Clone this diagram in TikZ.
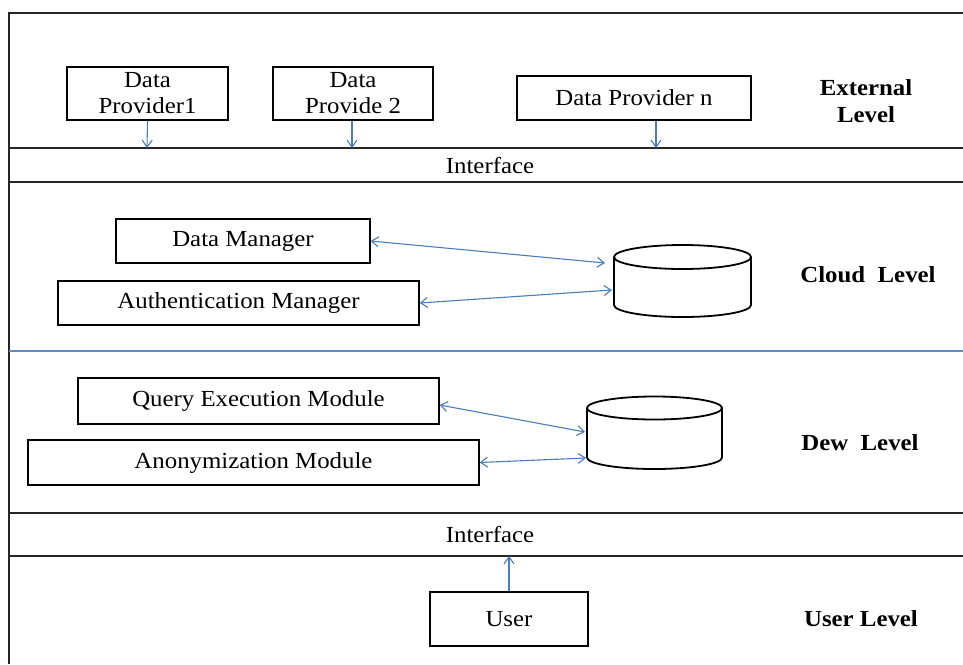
\documentclass[tikz,border=0pt]{standalone}
\usepackage{fontspec}
\setmainfont[FakeStretch=1.08]{Liberation Serif}
\usetikzlibrary{arrows.meta}
\definecolor{arrblue}{HTML}{4A7EBB}
\definecolor{lineblue}{HTML}{5B8CC6}
\tikzset{
  box/.style={draw, line width=1.3pt, inner sep=0pt, align=center, font=\fontsize{23}{26}\selectfont},
  lbl/.style={inner sep=0pt, align=center, font=\fontsize{23}{27}\selectfont\bfseries},
  txt/.style={inner sep=0pt, font=\fontsize{23}{26}\selectfont},
  sep/.style={line width=1.3pt, black!85},
  conn/.style={arrblue, line width=1.1pt, -{Straight Barb[length=7pt,width=10pt]}},
  biconn/.style={arrblue, line width=1.1pt, {Straight Barb[length=7pt,width=10pt]}-{Straight Barb[length=7pt,width=10pt]}},
  db/.style={line width=1.8pt}
}
\begin{document}
\begin{tikzpicture}[x=1pt,y=-1pt]
\useasboundingbox (0,0) rectangle (963,664);
% frame and separators
\draw[sep] (9,664) -- (9,13) -- (963,13);
\draw[sep] (9,148) -- (963,148);
\draw[sep] (9,182) -- (963,182);
\draw[lineblue, line width=1.5pt] (9,351) -- (963,351);
\draw[sep] (9,513) -- (963,513);
\draw[sep] (9,556) -- (963,556);

% interfaces
\node[txt] (if1) at (490,166) {Interface};
\node[txt] (if2) at (490,535) {Interface};
\coordinate (if1a) at (147,148);
\coordinate (if1b) at (352,148);
\coordinate (if1c) at (656,148);
\coordinate (if2a) at (509,556);

% external level
\node[box, minimum width=161pt, minimum height=53pt] (dp1) at (147.5,93.5) {Data\\Provider1};
\node[box, minimum width=160pt, minimum height=53pt] (dp2) at (353,93.5) {Data\\Provide 2};
\node[box, minimum width=234pt, minimum height=44pt] (dpn) at (634,98) {Data Provider n};
\node[lbl] (ext) at (866,101) {External\\Level};
\draw[conn] (dp1.south) -- (if1a);
\draw[conn] (dp2.south -| if1b) -- (if1b);
\draw[conn] (dpn.south -| if1c) -- (if1c);

% cloud level
\node[box, minimum width=254pt, minimum height=44pt] (dm) at (243,241) {Data Manager};
\node[box, minimum width=361pt, minimum height=44pt] (am) at (238.5,303) {Authentication Manager};
\node[lbl] (cl) at (868,275) {Cloud\ \ Level};
\draw[db] (682.5,257) ellipse [x radius=68.5, y radius=12];
\draw[db] (614,257) -- (614,305) arc[start angle=180, end angle=0, x radius=68.5, y radius=12] -- (751,257);
\coordinate (cdb1) at (605,263);
\coordinate (cdb2) at (612,290);
\draw[biconn] (dm.east) -- (cdb1);
\draw[biconn] (am.east) -- (cdb2);

% dew level
\node[box, minimum width=361pt, minimum height=46pt] (qe) at (258.5,401) {Query Execution Module};
\node[box, minimum width=451pt, minimum height=45pt] (an) at (253.5,462.5) {Anonymization Module};
\node[lbl] (dl) at (860,443) {Dew\ \ Level};
\draw[db] (654.5,408) ellipse [x radius=67.5, y radius=11.5];
\draw[db] (587,408) -- (587,457.5) arc[start angle=180, end angle=0, x radius=67.5, y radius=11.5] -- (722,408);
\coordinate (ddb1) at (585,432);
\coordinate (ddb2) at (586,458);
\draw[biconn] ([yshift=-4pt]qe.east) -- (ddb1);
\draw[biconn] (an.east) -- (ddb2);

% user level
\node[box, minimum width=158pt, minimum height=54pt] (user) at (509,619) {User};
\node[lbl] (ul) at (861,619) {User Level};
\draw[conn] (user.north) -- (if2a);
\end{tikzpicture}
\end{document}
